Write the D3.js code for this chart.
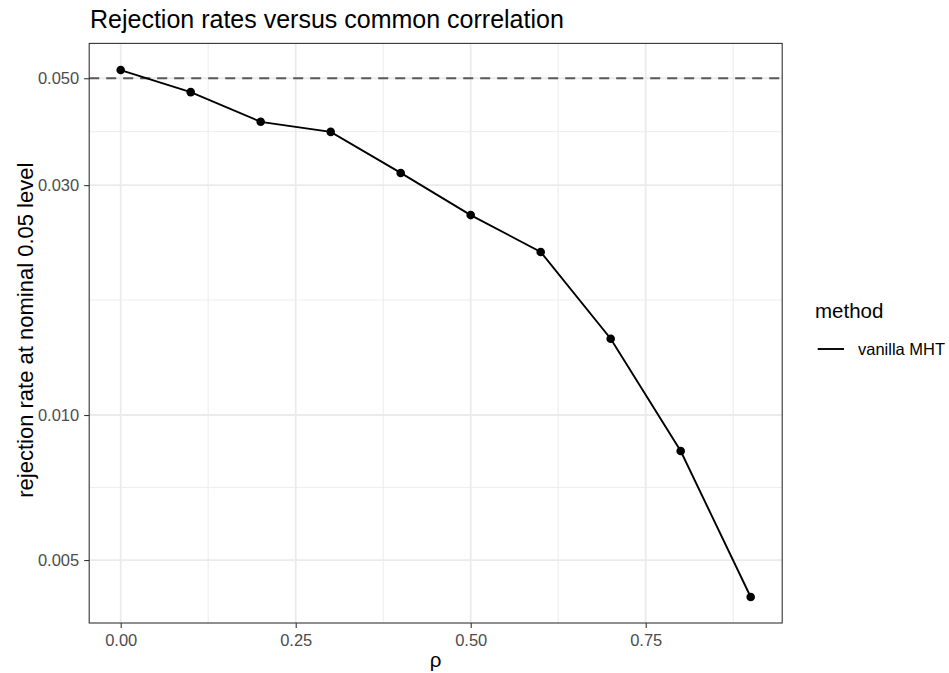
<!DOCTYPE html>
<html><head><meta charset="utf-8">
<script src="https://cdn.jsdelivr.net/npm/d3@7"></script>
<style>body{margin:0;background:#fff;} text{font-family:"Liberation Sans",Arial,sans-serif;}</style>
</head><body>
<svg id="c" width="949" height="673"></svg>
<script>
const rho = [0.0,0.1,0.2,0.3,0.4,0.5,0.6,0.7,0.8,0.9];
const rate = [0.0520,0.0468,0.0406,0.0387,0.0318,0.0260,0.0218,0.0144,0.00842,0.00419];
const xTicks = [0.00,0.25,0.50,0.75];
const xMinor = [0.125,0.375,0.625,0.875];
const yTicks = [0.005,0.010,0.030,0.050];
const nominal = 0.05;
const seriesName = "vanilla MHT";

const svg = d3.select("#c");
const L=89.2, R=782.2, T=43.4, B=623;
const x = d3.scaleLinear().domain([-0.045,0.945]).range([L,R]);
const y = d3.scaleLog().domain([0.003701,0.05906]).range([B,T]);

const ly = yTicks.map(v=>Math.log10(v));
const yMinor = [];
for(let i=0;i<ly.length-1;i++) yMinor.push(Math.pow(10,(ly[i]+ly[i+1])/2));

const g = svg.append("g");
g.selectAll(".ymin").data(yMinor).join("line").attr("x1",L).attr("x2",R)
 .attr("y1",d=>y(d)).attr("y2",d=>y(d)).attr("stroke","#ebebeb").attr("stroke-width",0.9);
g.selectAll(".xmin").data(xMinor).join("line").attr("y1",T).attr("y2",B)
 .attr("x1",d=>x(d)).attr("x2",d=>x(d)).attr("stroke","#ebebeb").attr("stroke-width",0.9);
g.selectAll(".ymaj").data(yTicks).join("line").attr("x1",L).attr("x2",R)
 .attr("y1",d=>y(d)).attr("y2",d=>y(d)).attr("stroke","#ebebeb").attr("stroke-width",1.8);
g.selectAll(".xmaj").data(xTicks).join("line").attr("y1",T).attr("y2",B)
 .attr("x1",d=>x(d)).attr("x2",d=>x(d)).attr("stroke","#ebebeb").attr("stroke-width",1.8);

g.append("line").attr("x1",L).attr("x2",R).attr("y1",y(nominal)).attr("y2",y(nominal))
 .attr("stroke","#595959").attr("stroke-width",1.9).attr("stroke-dasharray","10,7");

const data = rho.map((r,i)=>({r,v:rate[i]}));
g.append("path").datum(data).attr("fill","none").attr("stroke","#000").attr("stroke-width",1.9)
 .attr("d",d3.line().x(d=>x(d.r)).y(d=>y(d.v)));
g.selectAll(".pt").data(data).join("circle").attr("cx",d=>x(d.r)).attr("cy",d=>y(d.v))
 .attr("r",4.3).attr("fill","#000");

g.append("rect").attr("x",L).attr("y",T).attr("width",R-L).attr("height",B-T)
 .attr("fill","none").attr("stroke","#333").attr("stroke-width",1.1);

const xa = svg.append("g").attr("transform",`translate(0,${B})`)
 .call(d3.axisBottom(x).tickValues(xTicks).tickFormat(d3.format(".2f")).tickSize(5).tickPadding(6.5));
const ya = svg.append("g").attr("transform",`translate(${L},0)`)
 .call(d3.axisLeft(y).tickValues(yTicks).tickFormat(d3.format(".3f")).tickSize(5).tickPadding(5));
[xa,ya].forEach(a=>{
  a.select(".domain").remove();
  a.selectAll("line").attr("stroke","#333").attr("stroke-width",1.1);
  a.selectAll("text").attr("fill","#4d4d4d").attr("font-size","16.5px")
   .attr("font-family","Liberation Sans, Arial, sans-serif");
});

svg.append("text").attr("x",90).attr("y",28).attr("font-size","25px").attr("fill","#000")
 .text("Rejection rates versus common correlation");
svg.append("text").attr("x",(L+R)/2).attr("y",667).attr("text-anchor","middle")
 .attr("font-size","20.5px").text("ρ");
svg.append("text").attr("transform",`translate(33,${(T+B)/2 - 3}) rotate(-90)`).attr("text-anchor","middle")
 .attr("font-size","22px").text("rejection rate at nominal 0.05 level");

svg.append("text").attr("x",815).attr("y",318).attr("font-size","20.5px").text("method");
svg.append("line").attr("x1",817.7).attr("x2",844).attr("y1",349).attr("y2",349)
 .attr("stroke","#000").attr("stroke-width",1.9);
svg.append("text").attr("x",858).attr("y",355).attr("font-size","16.5px").text(seriesName);
</script>
</body></html>
